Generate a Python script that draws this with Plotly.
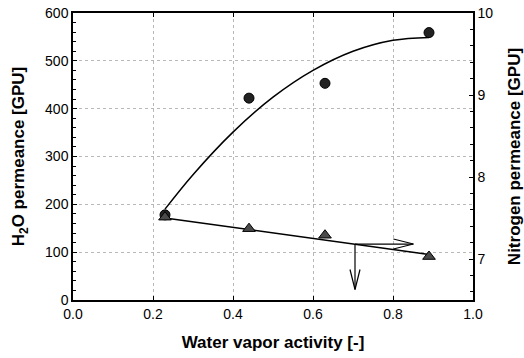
import plotly.graph_objects as go

# Data
activity = [0.23, 0.44, 0.63, 0.89]
h2o_perm = [178, 422, 453, 559]
n2_perm = [7.51, 7.37, 7.29, 7.03]

# fitted curve
h2o_fit_x = [0.23, 0.30, 0.40, 0.50, 0.60, 0.70, 0.80, 0.89]
h2o_fit_y = [190, 262, 351, 424, 480, 520, 543, 549]

# fitted nitrogen line
n2_fit_x = [0.23, 0.89]
n2_fit_y = [7.50, 7.056]

# arrows: tail -> tip in left-axis data units
arrow_tail_x = [0.705, 0.705]
arrow_tail_y = [117, 117]
arrow_tip_x = [0.851, 0.705]
arrow_tip_y = [117, 22]
arrow_dir = ["right", "down"]

FONT = "Liberation Sans, Arial, sans-serif"

fig = go.Figure()

fig.add_trace(go.Scatter(x=h2o_fit_x, y=h2o_fit_y, mode="lines",
                         line=dict(color="black", width=1.5, shape="spline"),
                         showlegend=False, hoverinfo="skip"))
fig.add_trace(go.Scatter(x=activity, y=h2o_perm, mode="markers",
                         marker=dict(symbol="circle", size=10, color="#222222",
                                     line=dict(color="black", width=1)),
                         showlegend=False))
fig.add_trace(go.Scatter(x=n2_fit_x, y=n2_fit_y, mode="lines", yaxis="y2",
                         line=dict(color="black", width=1.5),
                         showlegend=False, hoverinfo="skip"))
fig.add_trace(go.Scatter(x=activity, y=n2_perm, mode="markers", yaxis="y2",
                         marker=dict(symbol="triangle-up", size=11, color="#4a4a4a",
                                     line=dict(color="black", width=1)),
                         showlegend=False))

shapes = []
for tx, ty, hx, hy, d in zip(arrow_tail_x, arrow_tail_y, arrow_tip_x, arrow_tip_y, arrow_dir):
    shapes.append(dict(type="line", xref="x", yref="y", x0=tx, y0=ty, x1=hx, y1=hy,
                       line=dict(color="black", width=1.2)))
    head = "M -20,5 L 0,0 L -20,-5" if d == "right" else "M -5,20 L 0,0 L 5,20"
    shapes.append(dict(type="path", xref="x", yref="y", xsizemode="pixel", ysizemode="pixel",
                       xanchor=hx, yanchor=hy, path=head,
                       line=dict(color="black", width=1.2)))

fig.update_layout(
    width=524, height=358,
    margin=dict(l=73, r=51, t=13, b=58),
    paper_bgcolor="white", plot_bgcolor="white",
    font=dict(family=FONT, size=14, color="black"),
    shapes=shapes,
    xaxis=dict(range=[0, 1], tickmode="linear", tick0=0, dtick=0.2, tickformat=".1f",
               automargin=False,
               showgrid=True, gridcolor="#b8b8b8", griddash="dot", gridwidth=1,
               showline=True, linecolor="black", linewidth=1.5, mirror="ticks",
               ticks="inside", ticklen=4, tickcolor="black", zeroline=False,
               title=dict(text="<b>Water vapor activity [-]</b>", font=dict(size=17), standoff=16)),
    yaxis=dict(range=[0, 600], tickmode="linear", tick0=0, dtick=100,
               automargin=False,
               showgrid=True, gridcolor="#b8b8b8", griddash="dot", gridwidth=1,
               showline=True, linecolor="black", linewidth=1.5, mirror=False,
               ticks="inside", ticklen=4, tickcolor="black", zeroline=False,
               minor=dict(dtick=20, ticks="inside", ticklen=3, tickcolor="black", showgrid=False),
               title=dict(text="<b>H<sub>2</sub>O permeance [GPU]</b>", font=dict(size=17), standoff=16)),
    yaxis2=dict(range=[6.5, 10], tickmode="linear", tick0=7, dtick=1, overlaying="y", side="right",
                automargin=False,
                showgrid=False, showline=True, linecolor="black", linewidth=1.5,
                ticks="inside", ticklen=4, tickcolor="black", zeroline=False,
                minor=dict(dtick=0.2, ticks="inside", ticklen=3, tickcolor="black", showgrid=False),
                title=dict(text="<b>Nitrogen permeance [GPU]</b>", font=dict(size=17), standoff=16)),
)

fig.write_html("out.html")
